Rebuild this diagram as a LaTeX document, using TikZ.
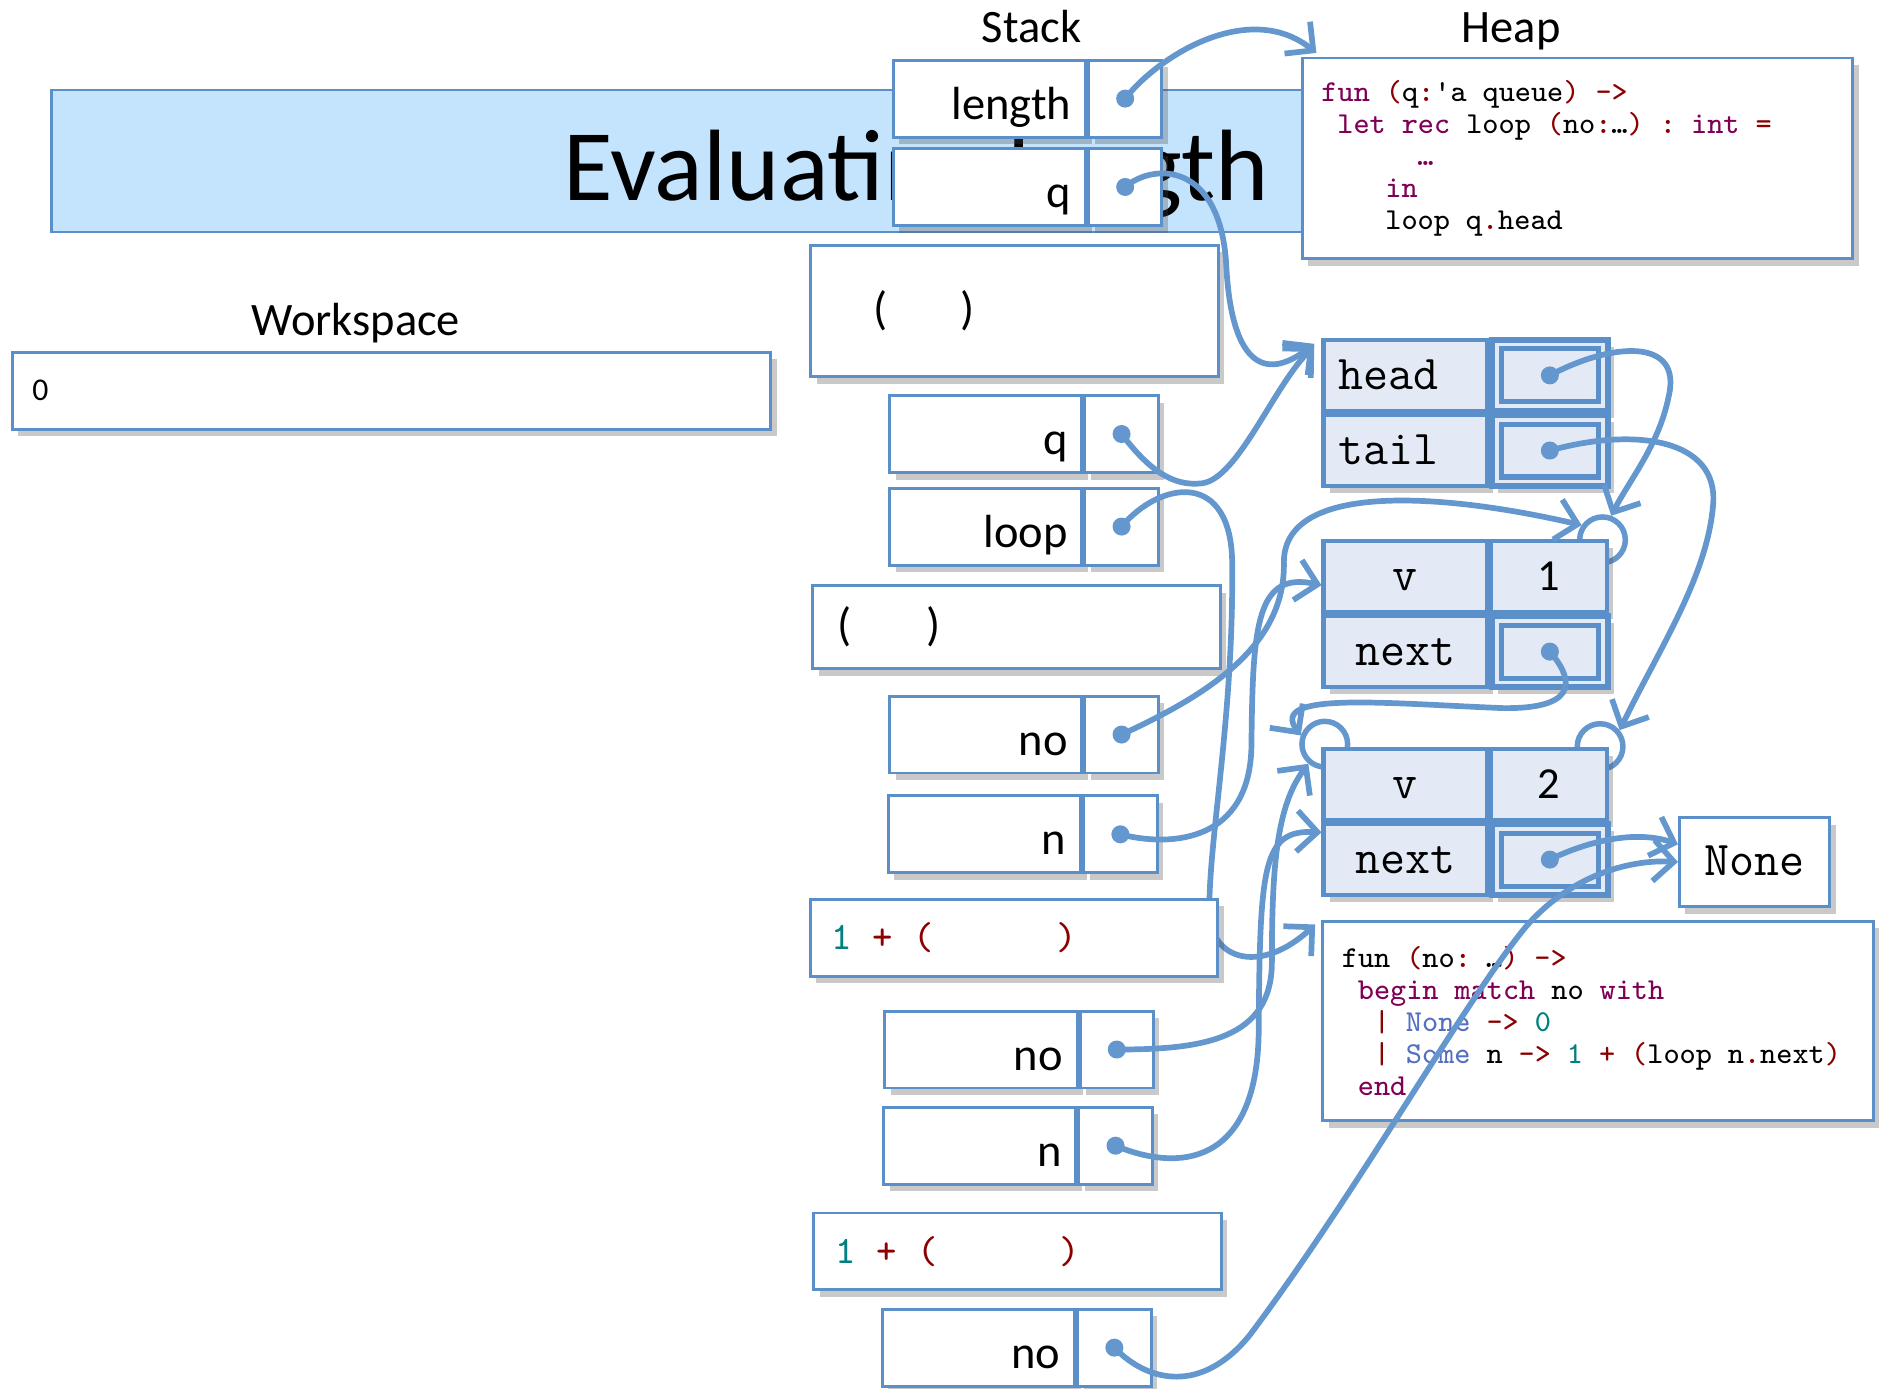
\documentclass[tikz,border=0pt]{standalone}
\usepackage{fontspec}
\setmainfont{Carlito}
\usepackage{tikz}
\usetikzlibrary{arrows.meta,positioning,calc,shadows}

\definecolor{boxblue}{RGB}{91,143,201}
\definecolor{linkblue}{RGB}{99,151,206}
\definecolor{titlefill}{RGB}{196,227,252}
\definecolor{recfill}{RGB}{227,234,245}
\definecolor{kwcol}{RGB}{127,0,85}
\definecolor{puncol}{RGB}{140,0,0}
\definecolor{numcol}{RGB}{0,128,128}
\definecolor{ctorcol}{RGB}{84,112,192}

\newcommand{\ckw}[1]{\textcolor{kwcol}{#1}}
\newcommand{\cpn}[1]{\textcolor{puncol}{#1}}
\newcommand{\cnum}[1]{\textcolor{numcol}{#1}}
\newcommand{\cctor}[1]{\textcolor{ctorcol}{#1}}
\newcommand{\codesp}{\spaceskip=0.525em\relax}

\begin{document}
\begin{tikzpicture}[x=0.1mm,y=-0.1mm,
	boxshadow/.style={drop shadow={shadow xshift=0.5mm,shadow yshift=-0.6mm,opacity=0.3,fill=black!70}},
	titlebar/.style={draw=boxblue,line width=0.6pt,fill=titlefill,minimum width=143.8mm,minimum height=11.8mm},
	stkname/.style={draw=boxblue,line width=0.7pt,fill=white,boxshadow,minimum width=16mm,minimum height=6.4mm,text width=13.6mm,align=right,text height=9.7pt,text depth=0pt,font=\fontsize{11}{13}\selectfont},
	stkptr/.style={draw=boxblue,line width=0.7pt,fill=white,boxshadow,minimum width=6.1mm,minimum height=6.4mm},
	stkframe/.style={draw=boxblue,line width=0.7pt,fill=white,boxshadow,minimum width=33.9mm,minimum height=6.4mm,text width=31.5mm,align=left,font=\fontsize{11}{13}\selectfont},
	stkexpr/.style={stkframe,font=\ttfamily\fontsize{9.2}{11}\selectfont},
	fld/.style={draw=boxblue,line width=1pt,fill=recfill,boxshadow,minimum width=13.6mm,minimum height=5.9mm,text height=6.5pt,text depth=0pt,font=\ttfamily\fontsize{11.5}{13}\selectfont},
	fldval/.style={fld,minimum width=9.6mm,font=\rmfamily\fontsize{10.5}{12}\selectfont},
	fldptr/.style={fld,minimum width=9.6mm,line width=1.4pt,
		path picture={\draw[boxblue,line width=1.2pt] ([shift={(0.75mm,-0.75mm)}]path picture bounding box.north west) rectangle ([shift={(-0.75mm,0.75mm)}]path picture bounding box.south east);}},
	somecell/.style={circle,draw=linkblue,line width=1.3pt,fill=white,minimum size=3.8mm,inner sep=0pt},
	codebox/.style={draw=boxblue,line width=0.7pt,fill=white,boxshadow,anchor=north west,minimum width=45.8mm,text width=42.6mm,inner xsep=1.6mm,align=left,font=\ttfamily\fontsize{7.2}{7.6}\selectfont},
	link/.style={draw=linkblue,line width=1.35pt,line cap=round,-{Straight Barb[length=1.7mm,width=3.4mm]}}]
	\useasboundingbox (0,0) rectangle (1568,1155);

	\node[titlebar] (titlebar) at (762,134) {};
	\node[anchor=base,font=\fontsize{24}{28}\selectfont] (title) at (762,167) {Evaluating length};
	\node[anchor=base,font=\fontsize{11}{13}\selectfont] (stacklbl) at (858,35) {Stack};
	\node[anchor=base,font=\fontsize{11}{13}\selectfont] (heaplbl) at (1257,35) {Heap};
	\node[anchor=base,font=\fontsize{11}{13}\selectfont] (wslbl) at (296,279) {Workspace};

	\node[draw=boxblue,line width=0.7pt,fill=white,boxshadow,minimum width=63.1mm,minimum height=6.4mm,text width=60.7mm,align=left,font=\fontsize{7.5}{9}\selectfont] (ws) at (325.5,325) {\hspace*{0.5mm}0};

	\node[stkname] (lenname) at (823,82) {length};
	\node[stkptr,right=0pt of lenname] (lenptr) {};
	\node[stkname] (qaname) at (823,155.5) {q};
	\node[stkptr,right=0pt of qaname] (qaptr) {};
	\node[stkframe,minimum height=10.9mm] (frmA) at (844,258.5) {\hspace*{4mm}(\hspace{6.1mm})};
	\node[stkname] (qbname) at (820,361) {q};
	\node[stkptr,right=0pt of qbname] (qbptr) {};
	\node[stkname] (loopname) at (820,438) {loop};
	\node[stkptr,right=0pt of loopname] (loopptr) {};
	\node[stkframe,minimum height=6.9mm] (frmB) at (845.5,521.5) {\hspace*{0.9mm}(\hspace{6.2mm})};
	\node[stkname] (noaname) at (820,611) {no};
	\node[stkptr,right=0pt of noaname] (noaptr) {};
	\node[stkname] (naname) at (819,694) {n};
	\node[stkptr,right=0pt of naname] (naptr) {};
	\node[stkname] (nobname) at (816,873) {no};
	\node[stkptr,right=0pt of nobname] (nobptr) {};
	\node[stkname] (nbname) at (815,953) {n};
	\node[stkptr,right=0pt of nbname] (nbptr) {};
	\node[stkexpr] (frmD) at (846.5,1041) {\codesp\hspace*{0.6mm}\cnum{1} \cpn{+} \cpn{(}\hspace{3.15em}\cpn{)}};
	\node[stkname] (nocname) at (814,1121) {no};
	\node[stkptr,right=0pt of nocname] (nocptr) {};

	\node[somecell] (some1) at (1333,449) {};
	\node[somecell] (some2l) at (1102,619) {};
	\node[somecell] (some2r) at (1331,621) {};

	\node[fld,text width=11.2mm,align=left] (qhd) at (1169,312.25) {head};
	\node[fldptr,right=0pt of qhd] (qhdptr) {};
	\node[fld,text width=11.2mm,align=left,below=0pt of qhd] (qtl) {tail};
	\node[fldptr,right=0pt of qtl] (qtlptr) {};

	\node[fld] (v1) at (1169,479.5) {v};
	\node[fldval,right=0pt of v1] (v1val) {1};
	\node[fld,below=0pt of v1] (nx1) {next};
	\node[fldptr,right=0pt of nx1] (nx1ptr) {};

	\node[fld] (v2) at (1169,652.5) {v};
	\node[fldval,right=0pt of v2] (v2val) {2};
	\node[fld,below=0pt of v2] (nx2) {next};
	\node[fldptr,right=0pt of nx2] (nx2ptr) {};

	\node[fld,fill=white,line width=0.7pt,minimum width=12.5mm,minimum height=7.4mm] (none) at (1459.5,717) {None};

	\node[codebox,minimum height=16.7mm] (code1) at (1082,47) {\codesp
		\ckw{fun} \cpn{(}q\cpn{:}'a queue\cpn{)} \cpn{->}\\
		\hspace*{0.525em}\ckw{let rec} loop \cpn{(}no\cpn{:}…\cpn{)} \cpn{:} \ckw{int} \cpn{=}\\
		\hspace*{3.15em}\ckw{…}\\
		\hspace*{2.1em}\ckw{in}\\
		\hspace*{2.1em}loop q\cpn{.}head};
	\node[codebox,minimum height=16.6mm] (code2) at (1099,765) {\codesp
		fun \cpn{(}no\cpn{:} …\cpn{)} \cpn{->}\\
		\hspace*{0.525em}\ckw{begin match} no \ckw{with}\\
		\hspace*{1.05em}\cpn{|} \cctor{None} \cpn{->} \cnum{0}\\
		\hspace*{1.05em}\cpn{|} \cctor{Some} n \cpn{->} \cnum{1} \cpn{+} \cpn{(}loop n\cpn{.}next\cpn{)}\\
		\hspace*{0.525em}\ckw{end}};

	\draw[link] (loopptr.center) .. controls (965,400) and (1025,390) .. (1025,470) .. controls (1026,600) and (1005,700) .. (1006,760) .. controls (1008,800) and (1050,810) .. ([xshift=-0.5mm,yshift=-0.4mm]code2.north west);
	\node[stkexpr] (frmC) at (843.5,780) {\codesp\hspace*{0.6mm}\cnum{1} \cpn{+} \cpn{(}\hspace{3.15em}\cpn{)}};

	\draw[link] (lenptr.center) .. controls (965,45) and (1040,0) .. ([xshift=1.3mm,yshift=0.3mm]code1.north west);
	\draw[link] (qaptr.center) .. controls (960,135) and (1015,135) .. (1020,220) .. controls (1024,300) and (1050,320) .. ([xshift=-0.6mm,yshift=-0.5mm]qhd.north west);
	\draw[link] (qbptr.center) .. controls (955,390) and (975,405) .. (1000,402) .. controls (1030,398) and (1060,320) .. ([xshift=-0.6mm,yshift=-0.7mm]qhd.north west);
	\draw[link] (noaptr.center) .. controls (1000,580) and (1068,540) .. (1068,470) .. controls (1065,400) and (1200,410) .. (some1.145);
	\draw[link] (naptr.center) .. controls (975,705) and (1040,700) .. (1041,620) .. controls (1042,520) and (1045,475) .. (v1.186);
	\draw[link] (qhdptr.center) .. controls (1340,285) and (1400,280) .. (1388,330) .. controls (1380,370) and (1355,400) .. (some1.70);
	\draw[link] (qtlptr.center) .. controls (1360,355) and (1430,365) .. (1425,420) .. controls (1420,480) and (1380,540) .. (some2r.40);
	\draw[link] (nx1ptr.center) .. controls (1305,560) and (1320,590) .. (1250,589) .. controls (1150,585) and (1055,575) .. (some2l.160);
	\draw[link] (nobptr.center) .. controls (1000,873) and (1058,865) .. (1058,800) .. controls (1058,720) and (1062,670) .. (some2l.230);
	\draw[link] (nbptr.center) .. controls (980,975) and (1045,970) .. (1047,860) .. controls (1048,720) and (1050,690) .. (nx2.162);
	\draw[link] (nx2ptr.center) .. controls (1320,700) and (1360,690) .. (none.167);
	\draw[link] (nocptr.center) .. controls (955,1150) and (1000,1160) .. (1040,1110) .. controls (1130,990) and (1220,830) .. (1270,770) .. controls (1310,725) and (1360,715) .. (none.west);

	\foreach \p in {lenptr,qaptr,qbptr,loopptr,noaptr,naptr,nobptr,nbptr,nocptr,qhdptr,qtlptr,nx1ptr,nx2ptr}
		\fill[linkblue] (\p.center) circle[radius=0.75mm];
\end{tikzpicture}
\end{document}
